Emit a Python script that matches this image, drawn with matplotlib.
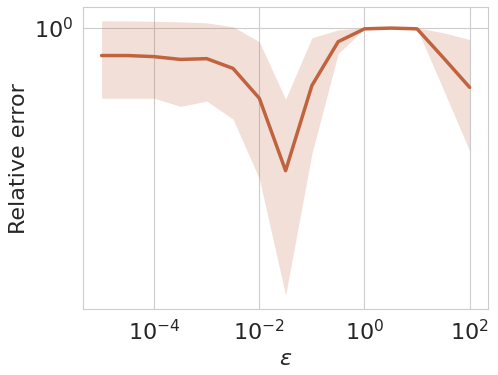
import numpy as np
import matplotlib
matplotlib.use("Agg")
import matplotlib.pyplot as plt
import seaborn as sns
from matplotlib.ticker import NullFormatter

sns.set_style("whitegrid")

# epsilon values (half-decade steps)
eps = [1e-5, 10**-4.5, 1e-4, 10**-3.5, 1e-3, 10**-2.5, 1e-2, 10**-1.5,
       1e-1, 10**-0.5, 1e0, 10**0.5, 1e1, 10**1.5, 1e2]
# mean relative error
err_mean = [0.832, 0.832, 0.826, 0.811, 0.815, 0.764, 0.627, 0.388,
            0.682, 0.912, 0.993, 0.998, 0.993, 0.820, 0.674]
# band (upper / lower)
err_hi = [1.047, 1.047, 1.044, 1.040, 1.033, 1.007, 0.912, 0.623,
          0.936, 0.986, 1.000, 1.007, 1.000, 0.968, 0.925]
err_lo = [0.627, 0.627, 0.627, 0.594, 0.615, 0.546, 0.368, 0.170,
          0.434, 0.843, 0.993, 0.993, 0.993, 0.665, 0.442]

color = "#c0643f"

fig, ax = plt.subplots(figsize=(4.98, 3.75), dpi=100)
fig.subplots_adjust(left=0.167, right=0.98, top=0.981, bottom=0.176)

ax.fill_between(eps, err_lo, err_hi, color=color, alpha=0.2, linewidth=0)
ax.plot(eps, err_mean, color=color, linewidth=2.5)

ax.set_xscale("log")
ax.set_yscale("log")
ax.set_xticks([1e-4, 1e-2, 1e0, 1e2])
ax.set_yticks([1e0])
ax.xaxis.set_minor_formatter(NullFormatter())
ax.yaxis.set_minor_formatter(NullFormatter())
ax.tick_params(labelsize=16)

ax.set_xlabel(r"$\epsilon$", fontsize=16)
ax.set_ylabel("Relative error", fontsize=16)

plt.savefig("out.png", dpi=100)
plt.close()
